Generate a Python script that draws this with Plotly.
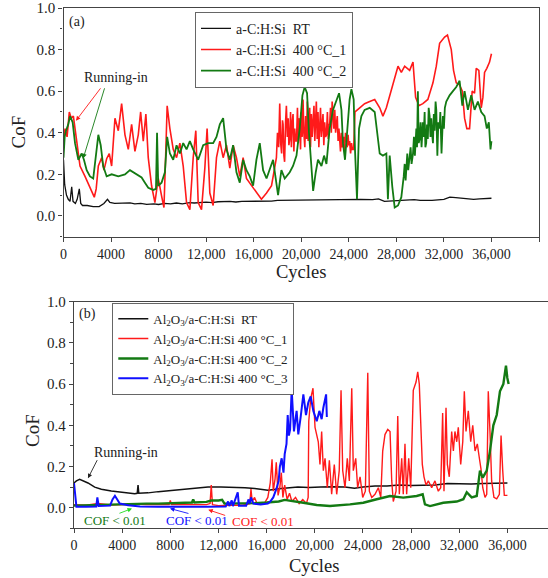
import plotly.graph_objects as go

# ---------------- Panel (a) data ----------------
a_rt_x = [0, 100, 250, 400, 550, 690, 800, 1000, 1150, 1330, 1450, 1600, 2000, 2500, 3000, 3400, 3700, 3900,
          4300, 5000, 5600, 6000, 6500, 7000, 7600, 8000, 8500, 9000, 9500, 10000, 10600, 11000, 12000, 12500,
          13000, 14000, 14500, 15000, 16000, 17000, 17500, 18000, 19000, 20000, 20500, 21000, 22000, 23000,
          24000, 25000, 26000, 26500, 27000, 28000, 29000, 29500, 30000, 31000, 32000, 32500, 33000, 33500,
          34000, 34500, 35000, 36000]
a_rt_y = [0.27, 0.15, 0.10, 0.08, 0.07, 0.14, 0.07, 0.06, 0.08, 0.13, 0.06, 0.05, 0.05, 0.045, 0.045, 0.06,
          0.08, 0.065, 0.06, 0.06, 0.063, 0.058, 0.06, 0.055, 0.058, 0.055, 0.06, 0.058, 0.062, 0.058, 0.064,
          0.062, 0.066, 0.064, 0.068, 0.07, 0.067, 0.07, 0.07, 0.073, 0.071, 0.075, 0.076, 0.077, 0.075, 0.077,
          0.078, 0.08, 0.08, 0.08, 0.078, 0.082, 0.07, 0.072, 0.075, 0.078, 0.075, 0.075, 0.08, 0.09, 0.088,
          0.085, 0.085, 0.08, 0.082, 0.085]

a_h1_x = [0, 130, 300, 490, 650, 830, 1110, 1390, 1810, 2370, 2590, 2750, 2930, 3210, 3400, 3630, 3850, 4050,
          4330, 4610, 4890, 5170, 5450, 5730, 6010, 6290, 6490, 6710, 6930, 7130, 7410, 7690, 7970, 8250, 8450,
          8600, 8720, 8950, 9230, 9510, 9790, 10070, 10350, 10630, 10910, 11130, 11330, 11610, 11890, 12080,
          12310, 12590, 12870, 13150, 13430, 13710, 13990, 14270, 14550, 14830, 15110, 15390, 15810, 16230,
          16650, 17080, 17500, 17910, 18000, 18100, 18190, 18270, 18350, 18420, 18470, 18540, 18600, 18680,
          18750, 18830, 18900, 18960, 19030, 19100, 19170, 19240, 19310, 19380, 19450, 19520, 19600, 19680,
          19750, 19810, 19870, 19940, 20000, 20080, 20150, 20220, 20300, 20370, 20440, 20510, 20580, 20650,
          20710, 20780, 20850, 20920, 21000, 21070, 21140, 21200, 21270, 21340, 21410, 21480, 21550, 21620,
          21690, 21760, 21830, 21900, 21970, 22050, 22120, 22200, 22270, 22330, 22390, 22460, 22530, 22600,
          22670, 22740, 22820, 22890, 22960, 23030, 23100, 23170, 23230, 23300, 23370, 23440, 23510, 23580,
          23650, 23720, 23800, 23870, 23940, 24000, 24070, 24150, 24230, 24300, 24410,
          24520, 24920, 25330, 25760, 26180, 26600, 26870, 27160, 27440, 27860, 28140, 28420, 28700,
          29120, 29400, 29620, 29900, 30230, 30650, 31080, 31360, 31640, 32060, 32300, 32620, 32810, 33040,
          33320, 33550, 33740, 33930, 34160, 34380, 34580, 34720, 34940, 35140, 35280, 35420, 35610, 35840, 36000]
a_h1_y = [0.36, 0.42, 0.38, 0.50, 0.47, 0.48, 0.36, 0.24, 0.19, 0.12, 0.09, 0.13, 0.24, 0.28, 0.22, 0.275, 0.30,
          0.24, 0.47, 0.41, 0.54, 0.39, 0.32, 0.44, 0.31, 0.39, 0.50, 0.36, 0.49, 0.28, 0.145, 0.064, 0.18, 0.096,
          0.04, 0.30, 0.53, 0.42, 0.32, 0.28, 0.35, 0.24, 0.064, 0.03, 0.28, 0.41, 0.064, 0.03, 0.23, 0.42, 0.11,
          0.05, 0.28, 0.36, 0.28, 0.34, 0.23, 0.34, 0.28, 0.19, 0.28, 0.18, 0.145, 0.11, 0.08, 0.11, 0.145, 0.28,
          0.40, 0.33, 0.54, 0.35, 0.30, 0.46, 0.44, 0.29, 0.26, 0.45, 0.53, 0.38, 0.47, 0.34, 0.37, 0.50, 0.33,
          0.45, 0.49, 0.31, 0.42, 0.36, 0.36, 0.52, 0.35, 0.47, 0.44, 0.32, 0.50, 0.38, 0.56, 0.40, 0.33, 0.48,
          0.37, 0.55, 0.36, 0.46, 0.52, 0.33, 0.49, 0.38, 0.44, 0.53, 0.36, 0.47, 0.55, 0.37, 0.50, 0.33, 0.44,
          0.52, 0.38, 0.46, 0.49, 0.34, 0.45, 0.38, 0.39, 0.50, 0.37, 0.44, 0.44, 0.52, 0.40, 0.55, 0.47, 0.42,
          0.51, 0.40, 0.44, 0.48, 0.36, 0.42, 0.37, 0.31, 0.40, 0.33, 0.34, 0.38, 0.31, 0.40, 0.37, 0.33, 0.39,
          0.34, 0.36, 0.30, 0.35, 0.32, 0.32,
          0.50, 0.52, 0.54, 0.55, 0.56, 0.52, 0.48, 0.52, 0.58,
          0.66, 0.72, 0.69, 0.72, 0.70, 0.74, 0.57, 0.53, 0.54, 0.56, 0.64, 0.72, 0.83, 0.86, 0.87, 0.80, 0.70,
          0.64, 0.63, 0.60, 0.47, 0.42, 0.42, 0.60, 0.59, 0.71, 0.70, 0.52, 0.57, 0.69, 0.71, 0.74, 0.78]

a_h2_x = [0, 100, 210, 400, 550, 770, 970, 1250, 1530, 1720, 1950, 2230, 2500, 2730, 2930, 3130, 3340, 3630,
          4050, 4610, 5170, 5590, 5870, 6150, 6570, 6850, 7130, 7550, 7780, 7870, 7970, 8250, 8530, 8720, 8950,
          9230, 9510, 9790, 10070, 10350, 10630, 10910, 11330, 11750, 12170, 12590, 12870, 13150, 13430, 13710,
          13990, 14270, 14550, 14830, 15110, 15390, 15670, 15950, 16230, 16510, 16790, 17080, 17350, 17630,
          18050, 18330, 18610, 19030, 19310, 19600, 19870, 20100, 20290, 20490, 20650, 20860, 21000, 21220,
          21410, 21700, 21920, 22120, 22390, 22670, 22960, 23180, 23380, 23510, 23680, 23880, 24070, 24220,
          24410, 24520, 24690, 24860, 25060, 25330, 25760, 26180, 26450, 26600, 26870, 27160, 27290, 27440,
          27660, 27860, 28140, 28420, 28620, 28700, 28780, 28840, 28920, 29000, 29120, 29200, 29280, 29400,
          29480, 29560, 29680, 29740, 29810, 29880, 29960, 30040, 30120, 30230, 30300, 30380, 30440, 30510,
          30580, 30650, 30720, 30800, 30870, 30940, 31000, 31080, 31150, 31220, 31300, 31360, 31450, 31530,
          31640, 31700, 31800, 31860, 31920, 32000, 32080, 32200, 32480, 32760, 33040, 33320, 33550, 33740,
          34020, 34300, 34580, 34860, 35140, 35420, 35610, 35780, 35920, 36000]
a_h2_y = [0.28, 0.38, 0.41, 0.44, 0.48, 0.45, 0.35, 0.27, 0.30, 0.27, 0.22, 0.19, 0.18, 0.29, 0.39, 0.34, 0.24,
          0.19, 0.20, 0.19, 0.20, 0.22, 0.21, 0.20, 0.185, 0.16, 0.135, 0.125, 0.13, 0.40, 0.145, 0.16, 0.21,
          0.38, 0.30, 0.27, 0.34, 0.30, 0.35, 0.32, 0.36, 0.32, 0.27, 0.34, 0.35, 0.35, 0.38, 0.44, 0.47, 0.32,
          0.27, 0.34, 0.21, 0.16, 0.27, 0.22, 0.19, 0.145, 0.27, 0.35, 0.22, 0.18, 0.22, 0.27, 0.10, 0.22, 0.18,
          0.21, 0.24, 0.29, 0.42, 0.58, 0.62, 0.59, 0.40, 0.24, 0.12, 0.21, 0.27, 0.24, 0.29, 0.25, 0.42, 0.51,
          0.56, 0.59, 0.51, 0.35, 0.27, 0.42, 0.56, 0.61, 0.56, 0.32, 0.08, 0.42, 0.48, 0.51, 0.52, 0.50, 0.37,
          0.30, 0.29, 0.30, 0.08, 0.29, 0.14, 0.04, 0.05, 0.09, 0.19, 0.25, 0.17, 0.24, 0.30, 0.22, 0.27, 0.33,
          0.25, 0.30, 0.38, 0.29, 0.42, 0.33, 0.60, 0.35, 0.37, 0.45, 0.33, 0.45, 0.38, 0.50, 0.33, 0.35, 0.44,
          0.37, 0.52, 0.48, 0.38, 0.47, 0.40, 0.35, 0.49, 0.41, 0.55, 0.51, 0.29, 0.45, 0.42, 0.50, 0.30, 0.44,
          0.48, 0.42, 0.52, 0.55, 0.58, 0.60, 0.62, 0.65, 0.53, 0.60, 0.51, 0.58, 0.51, 0.55, 0.50, 0.48, 0.42,
          0.45, 0.32, 0.36]

# ---------------- Panel (b) data ----------------
b_rt_x = [0, 200, 470, 800, 1160, 1720, 2270, 3100, 4210, 5040, 5250, 5320, 5380, 6150, 7000, 7810, 8600, 9470,
          10300, 11130, 12200, 13350, 14200, 15010, 16110, 16600, 17220, 18600, 19500, 20500, 21500, 22500,
          23300, 24000, 25000, 26000, 27000, 28000, 29000, 30000, 31000, 32000, 33000, 34000, 35000, 36000]
b_rt_y = [0.12, 0.13, 0.138, 0.13, 0.12, 0.10, 0.09, 0.081, 0.073, 0.068, 0.07, 0.11, 0.07, 0.072, 0.078, 0.083,
          0.088, 0.093, 0.098, 0.10, 0.10, 0.10, 0.097, 0.093, 0.085, 0.088, 0.093, 0.10, 0.098, 0.10, 0.102,
          0.10, 0.095, 0.10, 0.105, 0.105, 0.11, 0.108, 0.11, 0.11, 0.118, 0.117, 0.115, 0.118, 0.118, 0.12]

b_h1_x = [0, 1000, 2000, 3000, 4000, 5000, 6000, 7000, 7900, 8000, 8100, 9000, 10000, 11000, 11300, 11400,
          11500, 12000, 13000, 14000, 14600, 14700, 14800, 15000, 15200, 15800, 16100, 16300, 16450, 16550,
          16700, 16800, 16950, 17100, 17220, 17350, 17500, 17700, 17900, 18100, 18400, 18700, 19000, 19300,
          19450, 19500, 19660, 19850, 20020, 20290, 20430, 20570, 20710, 20850, 21040, 21210, 21400, 21620,
          21820, 22030, 22180, 22320, 22510, 22700, 22870, 23070, 23200, 23400, 23560, 23760, 23980, 24200,
          24400, 24530, 24730, 25000, 25280, 25480, 25640, 25830, 26060, 26250, 26390, 26520, 26750, 26890,
          27020, 27220, 27350, 27490, 27630, 27800, 27970, 28180, 28410, 28550, 28680, 28800, 28930, 29070,
          29240, 29430, 29710, 29980, 30260, 30460, 30620, 30730, 30900, 31010, 31170, 31370, 31510, 31640,
          31790, 31920, 32120, 32290, 32420, 32560, 32750, 32950, 33120, 33310, 33500, 33670, 33800, 33950,
          34140, 34280, 34410, 34550, 34690, 34880, 35110, 35330, 35470, 35610, 35740, 36000]
b_h1_y = [0.015, 0.012, 0.02, 0.013, 0.015, 0.018, 0.015, 0.017, 0.015, 0.035, 0.015, 0.015, 0.013, 0.015, 0.02,
          0.11, 0.015, 0.01, 0.012, 0.012, 0.02, 0.09, 0.03, 0.05, 0.02, 0.02, 0.05, 0.12, 0.235, 0.08, 0.14,
          0.22, 0.06, 0.10, 0.17, 0.05, 0.11, 0.04, 0.07, 0.03, 0.05, 0.02, 0.04, 0.02, 0.05, 0.42, 0.53, 0.58,
          0.39, 0.32, 0.21, 0.37, 0.18, 0.24, 0.097, 0.23, 0.065, 0.21, 0.065, 0.18, 0.57, 0.18, 0.097, 0.24,
          0.13, 0.58, 0.18, 0.24, 0.097, 0.15, 0.05, 0.08, 0.655, 0.08, 0.05, 0.065, 0.097, 0.05, 0.275, 0.355,
          0.38, 0.37, 0.13, 0.03, 0.08, 0.445, 0.065, 0.24, 0.065, 0.31, 0.065, 0.24, 0.097, 0.57, 0.61, 0.66,
          0.60, 0.40, 0.21, 0.15, 0.11, 0.13, 0.097, 0.13, 0.08, 0.097, 0.46, 0.08, 0.485, 0.21, 0.15, 0.37,
          0.275, 0.37, 0.32, 0.39, 0.21, 0.32, 0.565, 0.37, 0.47, 0.32, 0.40, 0.275, 0.31, 0.24, 0.19, 0.097,
          0.05, 0.065, 0.565, 0.37, 0.13, 0.05, 0.043, 0.065, 0.35, 0.18, 0.06, 0.06]

b_h2_x = [0, 1000, 2000, 3000, 4000, 5000, 6000, 7000, 8000, 9000, 9800, 9900, 10000, 11000, 11400, 12000,
          12300, 12500, 13000, 14000, 15000, 16000, 17000, 17500, 17940, 19050, 20160, 21260, 22920, 24030,
          25140, 26250, 27350, 28460, 28960, 29150, 29570, 30670, 31790, 32340, 32620, 33030, 33450, 33720,
          33950, 34280, 34550, 34830, 35110, 35380, 35660, 35880, 35990, 36100]
b_h2_y = [0.01, 0.012, 0.015, 0.015, 0.018, 0.02, 0.02, 0.02, 0.022, 0.025, 0.025, 0.04, 0.025, 0.028, 0.035,
          0.035, 0.038, 0.02, 0.02, 0.02, 0.022, 0.025, 0.03, 0.038, 0.033, 0.024, 0.013, 0.008, 0.016, 0.024,
          0.041, 0.057, 0.049, 0.057, 0.065, 0.016, 0.008, 0.024, 0.03, 0.041, 0.075, 0.05, 0.057, 0.18, 0.146,
          0.18, 0.275, 0.40, 0.45, 0.565, 0.60, 0.69, 0.63, 0.60]

b_h3_x = [0, 100, 200, 1000, 1850, 1940, 2050, 3000, 3200, 3400, 3600, 3800, 4500, 5500, 7000, 9000, 11000,
          12600, 12800, 12900, 13100, 13200, 13600, 13700, 14300, 14500, 14600, 14700, 14900, 15500, 16100,
          16300, 16550, 16800, 17000, 17100, 17250, 17400, 17500, 17650, 17750, 17850, 17950, 18080, 18270,
          18490, 18630, 18820, 19050, 19270, 19460, 19660, 19880, 20160, 20380, 20570, 20710, 20940, 21000]
b_h3_y = [0.12, 0.04, 0.005, 0.005, 0.006, 0.05, 0.008, 0.01, 0.04, 0.058, 0.035, 0.02, 0.012, 0.006, 0.005,
          0.004, 0.005, 0.006, 0.03, 0.008, 0.035, 0.008, 0.075, 0.01, 0.01, 0.04, 0.02, 0.05, 0.02, 0.015, 0.02,
          0.03, 0.05, 0.09, 0.13, 0.20, 0.24, 0.17, 0.26, 0.31, 0.45, 0.35, 0.38, 0.575, 0.37, 0.47, 0.356,
          0.437, 0.55, 0.45, 0.51, 0.54, 0.47, 0.42, 0.47, 0.43, 0.485, 0.55, 0.44]

# ---------------- Labels / ticks ----------------
a_names = ["a-C:H:Si\u00a0\u00a0RT", "a-C:H:Si\u00a0\u00a0400 °C_1", "a-C:H:Si\u00a0\u00a0400 °C_2"]
b_names = ["Al<sub>2</sub>O<sub>3</sub>/a-C:H:Si\u00a0\u00a0RT",
           "Al<sub>2</sub>O<sub>3</sub>/a-C:H:Si 400 °C_1",
           "Al<sub>2</sub>O<sub>3</sub>/a-C:H:Si 400 °C_2",
           "Al<sub>2</sub>O<sub>3</sub>/a-C:H:Si 400 °C_3"]
x_tick_vals = [0, 4000, 8000, 12000, 16000, 20000, 24000, 28000, 32000, 36000, 40000]
x_tick_text = ["0", "4000", "8000", "12,000", "16,000", "20,000", "24,000", "28,000", "32,000", "36,000", ""]
y_tick_vals = [0.0, 0.2, 0.4, 0.6, 0.8, 1.0]
y_tick_text = ["0.0", "0.2", "0.4", "0.6", "0.8", "1.0"]

FONT = "Liberation Serif"
AX = "#444"
RED = "#ff1a1a"
GREEN = "#137a13"
BLUE = "#1010ff"

fig = go.Figure()
fig.add_trace(go.Scatter(x=a_rt_x, y=a_rt_y, mode="lines", name=a_names[0], line=dict(color="#111", width=1.3),
                         xaxis="x", yaxis="y", legend="legend"))
fig.add_trace(go.Scatter(x=a_h1_x, y=a_h1_y, mode="lines", name=a_names[1], line=dict(color=RED, width=1.6),
                         xaxis="x", yaxis="y", legend="legend"))
fig.add_trace(go.Scatter(x=a_h2_x, y=a_h2_y, mode="lines", name=a_names[2], line=dict(color=GREEN, width=1.8),
                         xaxis="x", yaxis="y", legend="legend"))

fig.add_trace(go.Scatter(x=b_rt_x, y=b_rt_y, mode="lines", name=b_names[0], line=dict(color="#111", width=1.5),
                         xaxis="x2", yaxis="y2", legend="legend2"))
fig.add_trace(go.Scatter(x=b_h1_x, y=b_h1_y, mode="lines", name=b_names[1], line=dict(color=RED, width=1.4),
                         xaxis="x2", yaxis="y2", legend="legend2"))
fig.add_trace(go.Scatter(x=b_h2_x, y=b_h2_y, mode="lines", name=b_names[2], line=dict(color=GREEN, width=2.4),
                         xaxis="x2", yaxis="y2", legend="legend2"))
fig.add_trace(go.Scatter(x=b_h3_x, y=b_h3_y, mode="lines", name=b_names[3], line=dict(color=BLUE, width=2.0),
                         xaxis="x2", yaxis="y2", legend="legend2"))

def xax(domain, rng, anchor):
    return dict(domain=domain, range=rng, anchor=anchor, showline=True, mirror=True, linecolor=AX, linewidth=1.3,
                ticks="outside", ticklen=4, tickcolor=AX, tickwidth=1.2, tickvals=x_tick_vals, ticktext=x_tick_text,
                showgrid=False, zeroline=False, tickfont=dict(family=FONT, size=14, color="#222"))

def yax(domain, anchor, mirror):
    return dict(domain=domain, range=[-0.1, 1.0], anchor=anchor, showline=True, mirror=mirror, linecolor=AX,
                linewidth=1.3, ticks="outside", ticklen=4, tickcolor=AX, tickwidth=1.2, tickvals=y_tick_vals,
                ticktext=y_tick_text, showgrid=False, zeroline=False,
                tickfont=dict(family=FONT, size=15, color="#222"),
                minor=dict(tickvals=[-0.1, 0.1, 0.3, 0.5, 0.7, 0.9], ticks="outside", ticklen=2.5, tickcolor=AX))

W, H = 548, 578
fig.update_layout(
    width=W, height=H, margin=dict(l=0, r=0, t=0, b=0, autoexpand=False),
    paper_bgcolor="white", plot_bgcolor="white",
    xaxis=xax([63.5 / W, 539 / W], [0, 40000], "y"),
    yaxis=yax([1 - 236.7 / H, 1 - 8 / H], "x", True),
    xaxis2=xax([74 / W, 1.0], [0, 39370], "y2"),
    yaxis2=yax([1 - 528.3 / H, 1 - 301.7 / H], "x2", False),
    legend=dict(x=195 / W, y=1 - 11.7 / H, xanchor="left", yanchor="top", bgcolor="white", bordercolor="#666",
                borderwidth=1, font=dict(family=FONT, size=14, color="#222"), itemwidth=30),
    legend2=dict(x=112.3 / W, y=1 - 302.7 / H, xanchor="left", yanchor="top", bgcolor="white", bordercolor="#666",
                 borderwidth=1, font=dict(family=FONT, size=13, color="#222"), itemwidth=30),
    showlegend=True,
)

anns = []
def txt(text, x, y, xref, yref, size=13, color="#222", angle=0):
    anns.append(dict(text=text, x=x, y=y, xref=xref, yref=yref, showarrow=False, textangle=angle,
                     font=dict(family=FONT, size=size, color=color), xanchor="center", yanchor="middle"))

def arrow(x, y, ax, ay, xref, yref, color):
    anns.append(dict(text="", x=x, y=y, ax=ax, ay=ay, xref=xref, yref=yref, axref=xref, ayref=yref,
                     showarrow=True, arrowhead=2, arrowsize=1, arrowwidth=0.9, arrowcolor=color, standoff=0))

# axis titles
txt("Cycles", 301 / W, 1 - 272 / H, "paper", "paper", size=18.5)
txt("CoF", 18.5 / W, 1 - 132 / H, "paper", "paper", size=19, angle=-90)
txt("Cycles", 314 / W, 1 - 566 / H, "paper", "paper", size=18.5)
txt("CoF", 32 / W, 1 - 431 / H, "paper", "paper", size=19, angle=-90)
# panel letters
txt("(a)", 77 / W, 1 - 22 / H, "paper", "paper", size=14)
txt("(b)", 87.5 / W, 1 - 314 / H, "paper", "paper", size=14)
# running-in (a)
txt("Running-in", 4410, 0.665, "x", "y", size=14)
arrow(1050, 0.458, 3210, 0.621, "x", "y", RED)
arrow(1660, 0.277, 3490, 0.621, "x", "y", GREEN)
# running-in (b)
txt("Running-in", 4320, 0.268, "x2", "y2", size=14)
arrow(1160, 0.143, 1990, 0.238, "x2", "y2", "#222")
# COF < 0.01 labels
txt("COF < 0.01", 3400, -0.062, "x2", "y2", size=13, color=GREEN)
arrow(4820, -0.004, 3650, -0.03, "x2", "y2", "#22dd22")
txt("COF < 0.01", 10190, -0.062, "x2", "y2", size=13, color=BLUE)
arrow(7970, -0.004, 9630, -0.03, "x2", "y2", BLUE)
txt("COF < 0.01", 15700, -0.065, "x2", "y2", size=13, color=RED)
arrow(11150, -0.01, 12680, -0.04, "x2", "y2", RED)
fig.update_layout(annotations=anns)

fig.write_html("out.html")
